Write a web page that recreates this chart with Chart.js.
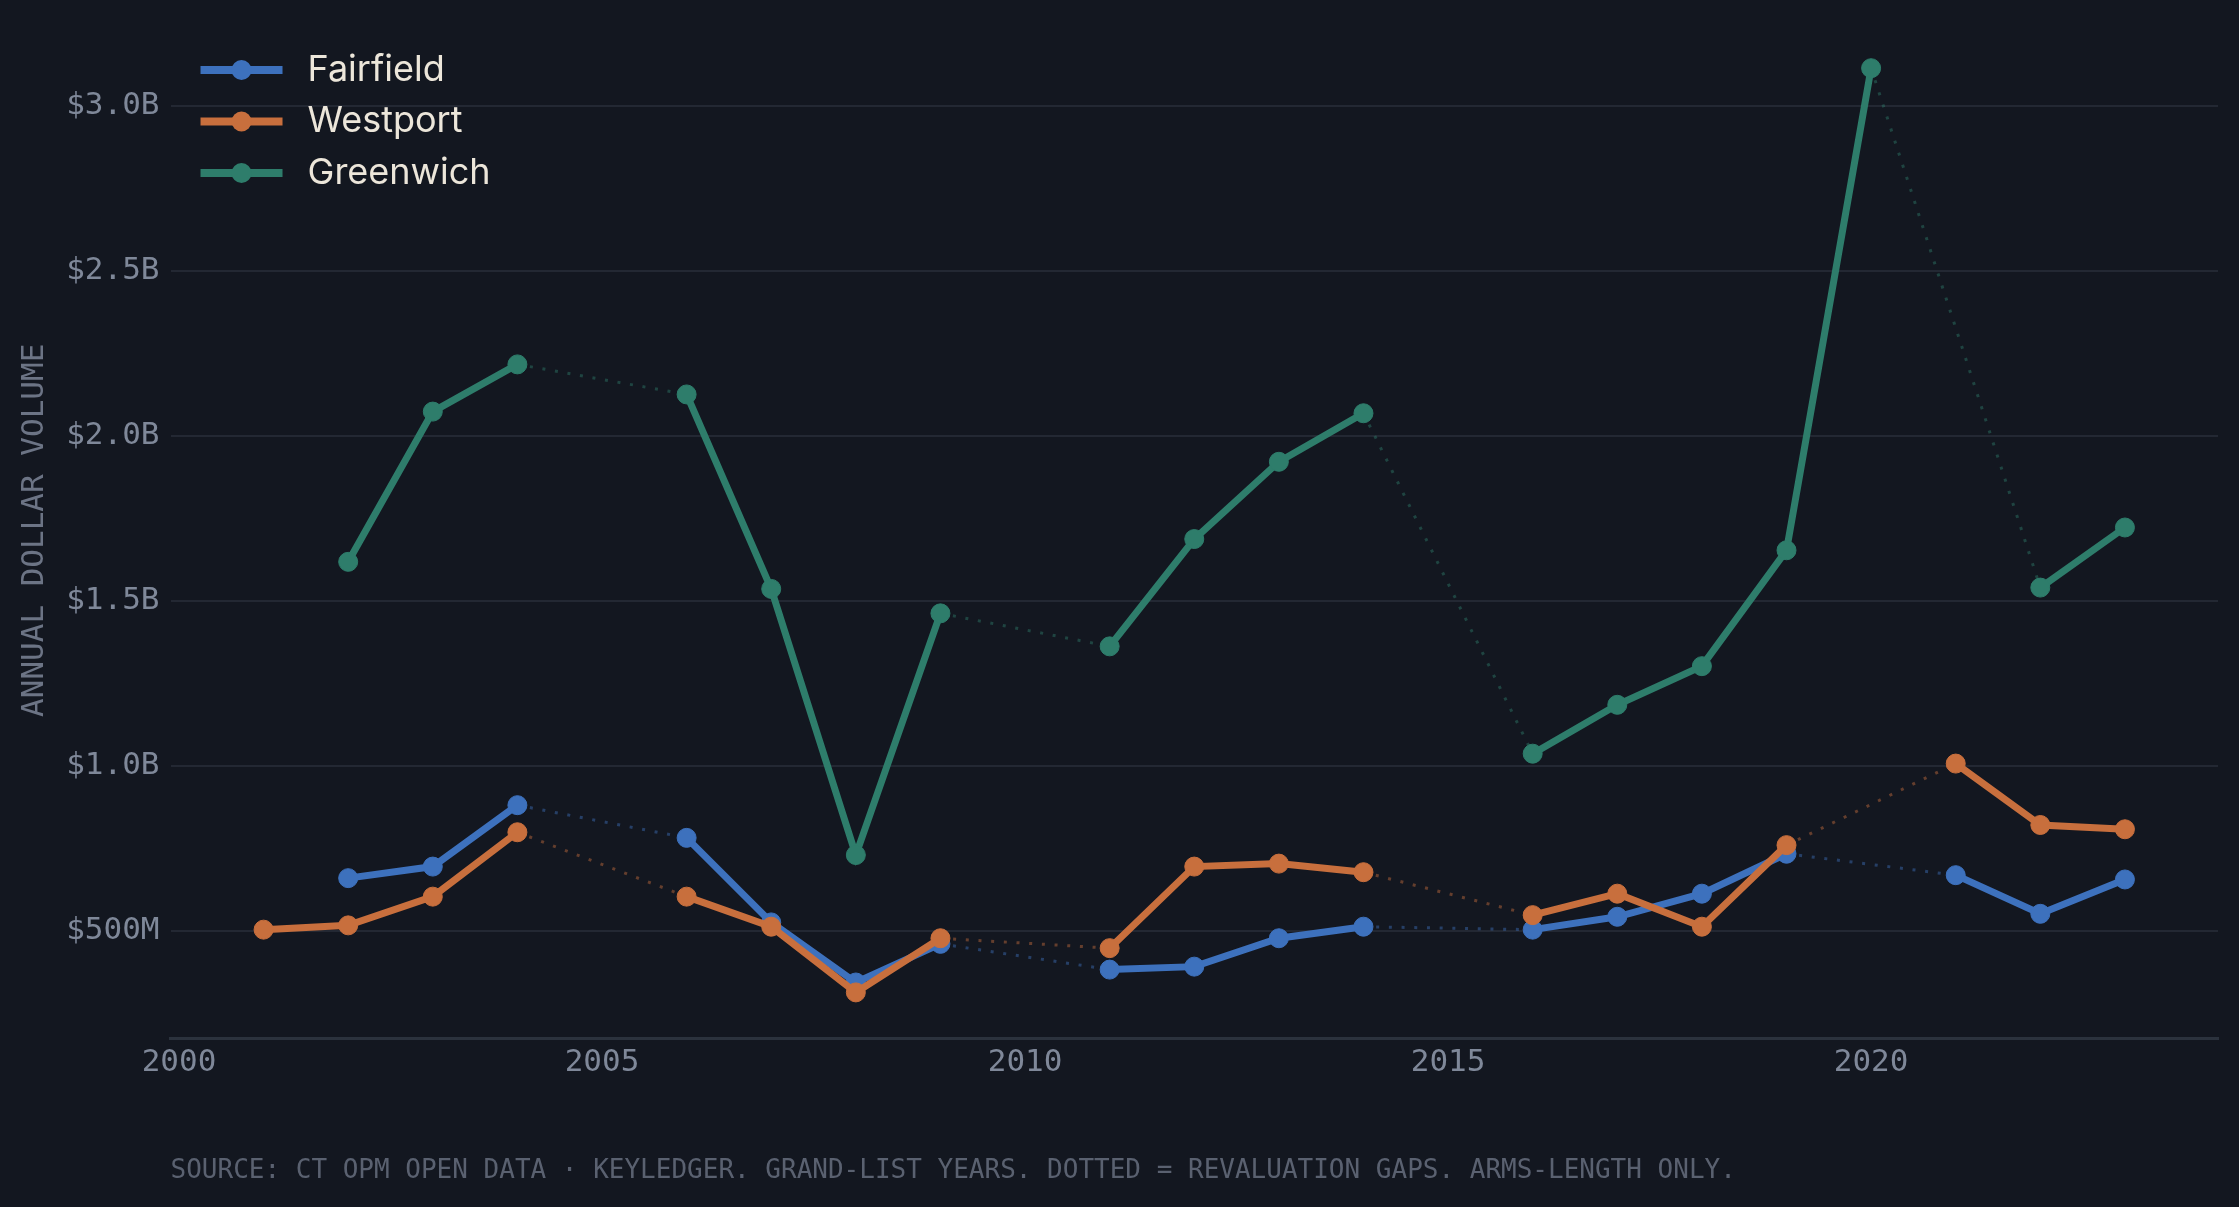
<!DOCTYPE html>
<html>
<head>
<meta charset="utf-8">
<title>Annual dollar volume — Fairfield, Westport, Greenwich</title>
<script src="https://cdn.jsdelivr.net/npm/chart.js@4.4.0/dist/chart.umd.min.js"></script>
<style>
  html, body { margin: 0; padding: 0; background: #131720; }
  #wrap { width: 2239px; height: 1207px; position: relative; }
</style>
</head>
<body>
<div id="wrap"><canvas id="volume-chart"></canvas></div>
<script>
// grand-list years; null = revaluation gap (drawn dotted)
const years = [2001, 2002, 2003, 2004, 2005, 2006, 2007, 2008, 2009, 2010, 2011, 2012,
  2013, 2014, 2015, 2016, 2017, 2018, 2019, 2020, 2021, 2022, 2023];

// annual dollar volume, $ billions
const fairfield = [null, 0.660, 0.695, 0.881, null, 0.782, 0.526, 0.344, 0.461, null, 0.383, 0.392,
  0.478, 0.513, null, 0.504, 0.543, 0.613, 0.734, null, 0.669, 0.552, 0.656];
const westport = [0.504, 0.517, 0.604, 0.799, null, 0.604, 0.513, 0.314, 0.478, null, 0.448, 0.695,
  0.704, 0.678, null, 0.548, 0.613, 0.513, 0.760, null, 1.007, 0.821, 0.808];
const greenwich = [null, 1.618, 2.073, 2.216, null, 2.125, 1.536, 0.730, 1.462, null, 1.362, 1.687,
  1.921, 2.068, null, 1.037, 1.185, 1.302, 1.653, 3.113, null, 1.540, 1.722];

const seriesNames = ['Fairfield', 'Westport', 'Greenwich'];
const yearTicks = [2000, 2005, 2010, 2015, 2020];
const volumeTicks = [0.5, 1.0, 1.5, 2.0, 2.5, 3.0];

const colors = ['#3d71bd', '#c86f3d', '#2e7d6b'];
const MONO = '"DejaVu Sans Mono", "Liberation Mono", monospace';

function hexAlpha(hex, a) {
  const n = parseInt(hex.slice(1), 16);
  return `rgba(${(n >> 16) & 255},${(n >> 8) & 255},${n & 255},${a})`;
}

function fmtVolume(v) {
  if (v >= 1) return '$' + v.toFixed(1) + 'B';
  return '$' + Math.round(v * 1000) + 'M';
}

const gap = (ctx, val) => (ctx.p0.skip || ctx.p1.skip ? val : undefined);

function makeDataset(name, values, i) {
  const c = colors[i];
  return {
    label: name,
    data: years.map((yr, k) => ({ x: yr, y: values[k] })),
    borderColor: c,
    backgroundColor: c,
    borderWidth: 7,
    pointRadius: 9.5,
    pointBorderWidth: 1,
    pointBackgroundColor: c,
    pointBorderColor: c,
    spanGaps: true,
    order: 3 - i,
    segment: {
      borderColor: ctx => gap(ctx, hexAlpha(c, 0.45)),
      borderWidth: ctx => gap(ctx, 3),
      borderDash: ctx => gap(ctx, [3, 9.7])
    }
  };
}

// padded 5% around the data, like the original
const allVals = [...fairfield, ...westport, ...greenwich].filter(v => v !== null);
const vLo = Math.min(...allVals), vHi = Math.max(...allVals);
const vPad = (vHi - vLo) * 0.05;
const yPad = (years[years.length - 1] - years[0]) * 0.05;

const legendPlugin = {
  id: 'lineLegend',
  afterDraw(c) {
    const { ctx, chartArea } = c;
    ctx.save();
    ctx.font = '36px Inter, "Noto Sans", sans-serif';
    ctx.textBaseline = 'middle';
    ctx.textAlign = 'left';
    seriesNames.forEach((name, i) => {
      const x0 = chartArea.left + 30;
      const y = chartArea.top + 48 + i * 51.5;
      ctx.strokeStyle = colors[i];
      ctx.lineWidth = 8;
      ctx.beginPath();
      ctx.moveTo(x0, y);
      ctx.lineTo(x0 + 82, y);
      ctx.stroke();
      ctx.fillStyle = colors[i];
      ctx.beginPath();
      ctx.arc(x0 + 41, y, 10, 0, Math.PI * 2);
      ctx.fill();
      ctx.fillStyle = '#ece6da';
      ctx.fillText(name, x0 + 107, y);
    });
    ctx.restore();
  }
};

const chart = new Chart(document.getElementById('volume-chart'), {
  type: 'line',
  data: {
    datasets: [fairfield, westport, greenwich].map((vals, i) => makeDataset(seriesNames[i], vals, i))
  },
  options: {
    responsive: true,
    maintainAspectRatio: false,
    animation: false,
    devicePixelRatio: 1,
    layout: { padding: { left: 0, right: 21, top: 22, bottom: 20 } },
    plugins: {
      legend: { display: false },
      tooltip: { enabled: false }
    },
    scales: {
      x: {
        type: 'linear',
        min: years[0] - yPad,
        max: years[years.length - 1] + yPad,
        afterBuildTicks: s => { s.ticks = yearTicks.map(v => ({ value: v })); },
        grid: { display: false, drawTicks: false },
        border: { display: true, color: '#2b323d', width: 3 },
        ticks: {
          color: '#7f8899',
          padding: 6,
          font: { family: MONO, size: 31 },
          callback: v => String(v)
        },
        title: {
          display: true,
          align: 'start',
          text: 'SOURCE: CT OPM OPEN DATA · KEYLEDGER. GRAND-LIST YEARS. DOTTED = REVALUATION GAPS. ARMS-LENGTH ONLY.',
          color: '#5a6170',
          font: { family: MONO, size: 26 },
          padding: { top: 68, bottom: 0 }
        }
      },
      y: {
        min: vLo - vPad,
        max: vHi + vPad,
        afterBuildTicks: s => { s.ticks = volumeTicks.map(v => ({ value: v })); },
        grid: { color: '#232833', lineWidth: 2, drawTicks: false },
        border: { display: false },
        ticks: {
          color: '#7f8899',
          padding: 11,
          // small line height so the top label does not push the plot area down
          font: { family: MONO, size: 31, lineHeight: 0.6 },
          callback: v => fmtVolume(v)
        },
        title: {
          display: true,
          text: 'ANNUAL DOLLAR VOLUME',
          color: '#6c7485',
          font: { family: MONO, size: 31 },
          padding: { top: 16, bottom: 2 }
        }
      }
    }
  },
  plugins: [legendPlugin]
});
</script>
</body>
</html>
